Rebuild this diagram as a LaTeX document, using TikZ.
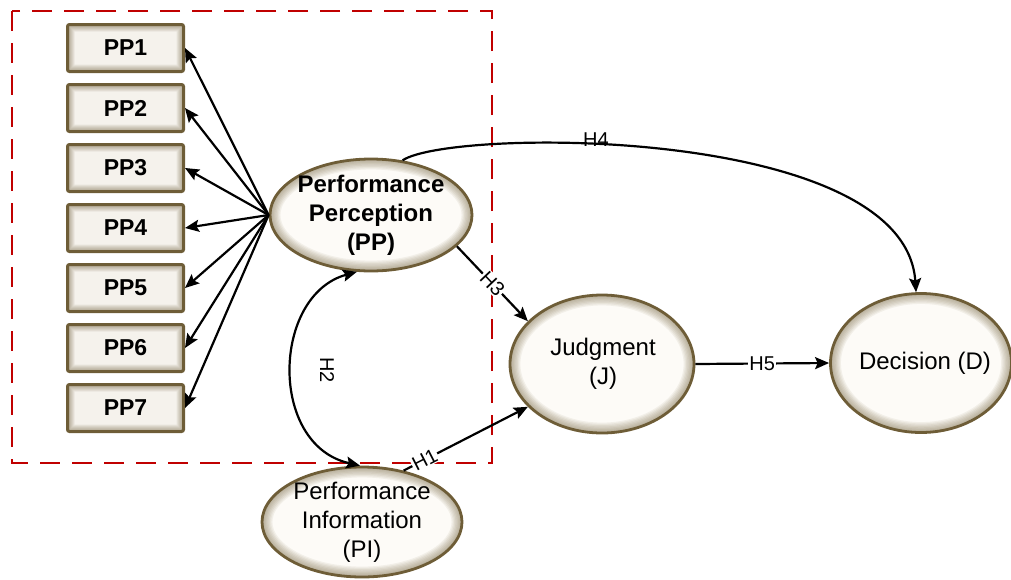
\documentclass[tikz,border=0pt]{standalone}
\usepackage{fontspec}
\setmainfont{Liberation Sans}
\usetikzlibrary{shapes.geometric,arrows.meta}
\definecolor{bord}{HTML}{6E5D37}
\definecolor{dred}{HTML}{C00000}
\definecolor{boxfill}{HTML}{F5F2EC}
\definecolor{latfill}{HTML}{FDFBF7}
\tikzset{
  ppbox/.style={draw=bord, line width=3pt, rounded corners=2pt, fill=boxfill,
    minimum width=116pt, minimum height=47pt, inner sep=0pt,
    font=\fontsize{23}{27}\selectfont\bfseries,
    path picture={\foreach \k in {1,...,7}{\draw[bord, opacity=0.085, line width=\k*2pt]
      (path picture bounding box.south west) rectangle (path picture bounding box.north east);}}},
  lat/.style 2 args={ellipse, draw=bord, line width=2.8pt, fill=latfill, inner sep=0pt,
    minimum width=2*#1, minimum height=2*#2,
    path picture={\foreach \k in {1,...,8}{\draw[bord, opacity=0.075, line width=\k*2.6pt]
      (path picture bounding box.center) ellipse [x radius=#1, y radius=#2];}}},
  ltxt/.style={align=center, font=\fontsize{24}{29}\selectfont, inner sep=0pt},
  conn/.style={line width=2.2pt, -{Stealth[length=14pt,width=12pt,inset=2.5pt]}},
  hlab/.style={font=\fontsize{20}{24}\selectfont, fill=white, inner sep=1pt},
}
\begin{document}
\begin{tikzpicture}[x=1pt,y=-1pt]
\useasboundingbox (0,0) rectangle (1011,579);
% dashed frame
\draw[dred, line width=2.2pt, dash pattern=on 20pt off 12pt] (12,11) rectangle (492,463);
% boxes
\foreach \i in {1,...,7}{
  \node[ppbox] (pp\i) at (125.5,{48+60*(\i-1)}) {PP\i};
}
% latent variables
\node[lat={101pt}{56pt}] (PP) at (371,215) {};
\node[ltxt, font=\fontsize{24}{29}\selectfont\bfseries] (PPt) at (PP) {Performance\\Perception\\(PP)};
\node[lat={100pt}{55pt}] (PI) at (362,522) {};
\node[ltxt] (PIt) at (PI) {Performance\\Information\\(PI)};
\node[lat={92pt}{69pt}] (J) at (602,364) {};
\node[ltxt] (Jt) at (603,364) {Judgment\\(J)};
\node[lat={90.5pt}{69.5pt}] (D) at (921,363) {};
\node[ltxt] (Dt) at (925,363) {Decision (D)};
% fan arrows
\foreach \i in {1,...,7}{
  \draw[conn] (PP.west) -- (pp\i.east);
}
% H4
\draw[conn] (PP.60) .. controls (450,128) and (905,125) .. (D.94);
\node[font=\fontsize{20}{24}\selectfont, inner sep=0pt] (h4) at (596,140) {H4};
% H3
\draw[conn] (PP.-20) -- node[hlab, sloped] (h3) {H3} (J.150);
% H1
\draw[conn] (PI.51) -- node[hlab, sloped, pos=0.17] (h1) {H1} (J.210);
% H5
\draw[conn] (J.east) -- node[hlab] (h5) {H5} (D.west);
% H2
\draw[line width=2.2pt, {Stealth[length=14pt,width=12pt,inset=2.5pt]}-{Stealth[length=14pt,width=12pt,inset=2.5pt]}]
  (PP.-104) .. controls (272,295) and (268,445) .. (PI.92);
\node[font=\fontsize{20}{24}\selectfont, rotate=-90, inner sep=0pt] (h2) at (327,370) {H2};
\end{tikzpicture}
\end{document}
